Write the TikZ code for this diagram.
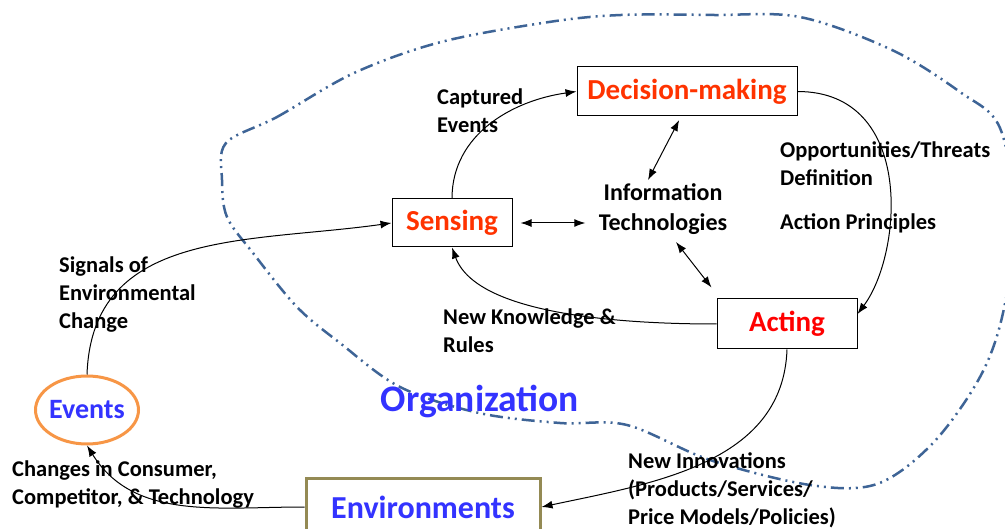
\documentclass[tikz,border=0pt]{standalone}
\usepackage{fontspec}
\setmainfont{Carlito}
\usetikzlibrary{shapes.geometric, arrows.meta}
\definecolor{orgline}{RGB}{62,100,150}
\definecolor{evtorange}{RGB}{247,150,70}
\definecolor{envframe}{RGB}{148,138,84}
\definecolor{titleblue}{RGB}{51,51,255}
\definecolor{hotred}{RGB}{255,51,0}
\tikzset{
  procbox/.style={draw, shape=rectangle, fill=white, line width=1pt, align=center,
    font={\fontsize{29pt}{34pt}\selectfont\bfseries}},
  lbl/.style={anchor=north west, align=left, inner sep=0pt,
    font={\fontsize{22.5pt}{28pt}\selectfont\bfseries}},
  flow/.style={-{Latex[length=11pt,width=8pt]}, line width=1pt},
  both/.style={{Latex[length=11pt,width=8pt]}-{Latex[length=11pt,width=8pt]}, line width=1pt}}

\begin{document}
\begin{tikzpicture}[x=1pt, y=-1pt]
  \useasboundingbox (0,0) rectangle (1005,529);
  % organization border
  \draw[orgline, line width=2.5pt, dash pattern=on 13pt off 5pt on 2pt off 5pt on 2pt off 5pt]
    plot[smooth cycle, tension=0.55] coordinates {
      (226,143) (277,117) (354,73) (441,42) (549,22) (621,15) (713,15) (800,17)
      (892,50) (960,92) (1000,128) (1015,220) (1003,313) (980,377) (933,443)
      (877,484) (810,485) (710,460) (627,425) (560,423) (479,413) (400,387)
      (340,343) (297,307) (253,253) (227,217) (222,180)};

  \node (dm) [procbox, text=hotred, minimum width=220pt, minimum height=49pt] at (687,91.5) {Decision-making};
  \node (sense) [procbox, text=hotred, minimum width=120pt, minimum height=48pt] at (452,223) {Sensing};
  \node (act) [procbox, text=red, minimum width=140pt, minimum height=50pt] at (787,324) {Acting};
  \node (it) [align=center, font={\fontsize{24pt}{30pt}\selectfont\bfseries}] at (663,209) {Information\\Technologies};
  \node (evt) [draw=evtorange, shape=ellipse, line width=3pt, inner xsep=-4pt, inner ysep=0pt,
    minimum width=103pt, minimum height=68pt,
    text=titleblue, font={\fontsize{28pt}{34pt}\selectfont\bfseries}] at (87,410) {Events};
  \node (env) [draw=envframe, fill=white, line width=3pt, minimum width=234pt, minimum height=56pt,
    text=titleblue, font={\fontsize{32pt}{38pt}\selectfont\bfseries}] at (423,507) {Environments};
  \node (org) [text=titleblue, font={\fontsize{37.5pt}{44pt}\selectfont\bfseries}] at (480,401) {Organization};

  % labels
  \node (lcap) [lbl] at (437,89) {Captured\\Events};
  \node (lopp) [lbl] at (780,141) {Opportunities/Threats\\Definition};
  \node (lact) [lbl] at (780,213) {Action Principles};
  \node (lsig) [lbl] at (59,257) {Signals of\\Environmental\\Change};
  \node (lknw) [lbl] at (443,309) {New Knowledge \&\\Rules};
  \node (lchg) [lbl] at (12,461) {Changes in Consumer,\\Competitor, \& Technology};
  \node (linn) [lbl] at (628,452) {New Innovations\\(Products/Services/\\Price Models/Policies)};

  % flows
  \draw[flow] (sense.north) to[out=90, in=188] (dm.west);
  \draw[flow] (dm.east) .. controls +(118,0) and +(45,-60) .. ([yshift=10pt]act.east);
  \draw[flow] (act.west) to[out=180, in=-70, looseness=0.7] (sense.south);
  \draw[flow] (evt.north) to[out=88, in=188, looseness=1.1] (sense.west);
  \draw[flow] (act.south) to[out=-92, in=12] (env.east);
  \draw[flow] (env.west) to[out=180, in=-58] (evt.south);
  \draw[both, shorten <=8pt, shorten >=10pt] (sense.east) -- (sense.east -| it.west);
  \draw[both, shorten <=4pt] ([xshift=-6pt]dm.south) -- ([xshift=-15pt]it.north);
  \draw[both] ([xshift=13pt,yshift=-4pt]it.south) -- ([xshift=-5pt,yshift=11pt]act.north west);
\end{tikzpicture}
\end{document}
